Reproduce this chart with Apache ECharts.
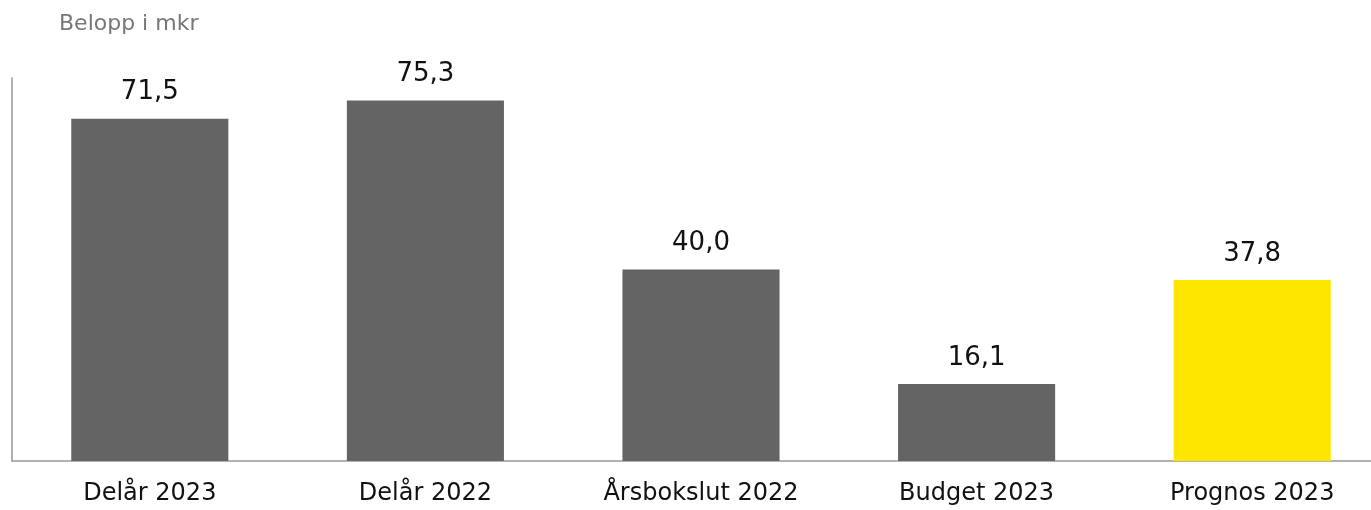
<!DOCTYPE html>
<html>
<head>
<meta charset="utf-8">
<script src="https://cdn.jsdelivr.net/npm/echarts@6/dist/echarts.min.js"></script>
<style>
  html, body { margin: 0; padding: 0; background: #fff; }
  #chart { width: 1371px; height: 510px; }
</style>
</head>
<body>
<div id="chart"></div>
<script>
// kategorier och belopp (mkr)
var categories = ['Delår 2023', 'Delår 2022', 'Årsbokslut 2022', 'Budget 2023', 'Prognos 2023'];
var values = [71.5, 75.3, 40.0, 16.1, 37.8];
var barColors = ['#646464', '#646464', '#646464', '#646464', '#ffe600'];

(function () {
  var option = {
    animation: false,
    textStyle: { fontFamily: 'DejaVu Sans' },
    title: {
      text: 'Belopp i mkr',
      left: 54,
      top: 8,
      textStyle: { color: '#777', fontSize: 22, fontWeight: 'normal', fontFamily: 'DejaVu Sans' }
    },
    // griden går lite utanför högerkanten, som i originalet
    grid: { left: 12, width: 1378, top: 78, bottom: 49, containLabel: false, outerBoundsMode: 'none' },
    xAxis: {
      type: 'category',
      data: categories,
      axisLine: { lineStyle: { color: '#999', width: 1.5 } },
      axisTick: { show: false },
      axisLabel: { color: '#111', fontSize: 24, margin: 21, interval: 0 }
    },
    yAxis: {
      type: 'value',
      min: 0,
      max: 80,
      axisLine: { show: true, lineStyle: { color: '#999', width: 1.5 } },
      axisTick: { show: false },
      axisLabel: { show: false },
      splitLine: { show: false }
    },
    series: [{
      type: 'bar',
      barWidth: '57%',
      data: values.map(function (v, i) {
        return { value: v, itemStyle: { color: barColors[i] } };
      }),
      label: {
        show: true,
        position: 'top',
        distance: 13,
        color: '#111',
        fontSize: 26,
        formatter: function (p) { return p.value.toFixed(1).replace('.', ','); }
      }
    }]
  };
  var myChart = echarts.init(document.getElementById('chart'));
  myChart.setOption(option);
})();
</script>
</body>
</html>
